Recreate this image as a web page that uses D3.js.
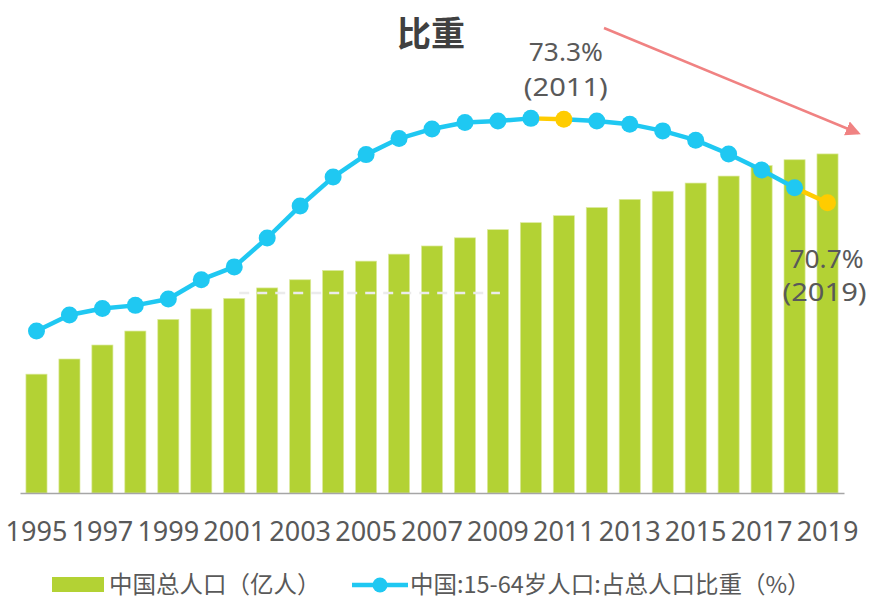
<!DOCTYPE html>
<html>
<head>
<meta charset="utf-8">
<script src="https://cdn.jsdelivr.net/npm/d3@7"></script>
<style>
  body { margin: 0; background: #fff; }
  svg { display: block; font-family: "Noto Sans CJK SC", "Noto Sans", sans-serif; }
</style>
</head>
<body>
<script>
// years on the x axis
const years = d3.range(1995, 2020);
// 中国总人口（亿人）
const population = [12.11, 12.24, 12.36, 12.48, 12.58, 12.67, 12.76, 12.85, 12.92, 13.00,
                    13.08, 13.14, 13.21, 13.28, 13.35, 13.41, 13.47, 13.54, 13.61, 13.68,
                    13.75, 13.81, 13.90, 13.95, 14.00];
// 中国:15-64岁人口:占总人口比重（%）
const share = [66.7, 67.2, 67.4, 67.5, 67.7, 68.3, 68.7, 69.6, 70.6, 71.5,
               72.2, 72.7, 73.0, 73.2, 73.25, 73.33, 73.3, 73.25, 73.15, 72.94,
               72.65, 72.22, 71.72, 71.17, 70.7];
// highlighted points
const highlightYears = [2011, 2019];
const tickYears = years.filter(function(y) { return y % 2 === 1; });

const width = 869, height = 601;
const green = "#b3d234", blue = "#1fc8f2", yellow = "#ffcc00", textColor = "#595959";

const svg = d3.select("body").append("svg")
    .attr("width", width)
    .attr("height", height);

const x = d3.scaleBand()
    .domain(years)
    .range([20, 844])
    .paddingInner(0.36)
    .paddingOuter(0.18);

const baseY = 493, topY = 60;

const yBar = d3.scaleLinear()
    .domain([11.09, 14.806])
    .range([baseY, topY]);

const yLine = d3.scaleLinear()
    .domain([61.65, 75.15])
    .range([baseY, topY]);

const cx = function(yr) { return x(yr) + x.bandwidth() / 2; };

// bars
svg.append("g")
    .selectAll("rect")
    .data(years)
    .enter()
    .append("rect")
    .attr("x", function(d) { return x(d); })
    .attr("y", function(d, i) { return yBar(population[i]); })
    .attr("width", x.bandwidth())
    .attr("height", function(d, i) { return baseY - yBar(population[i]); })
    .attr("fill", green)
    .attr("stroke", "#dcea9e")
    .attr("stroke-width", 0.7);

// faint dashed reference line
svg.append("line")
    .attr("x1", cx(2002) - 28)
    .attr("x2", cx(2009) + 2)
    .attr("y1", 293)
    .attr("y2", 293)
    .attr("stroke", "#ebebeb")
    .attr("stroke-width", 2.5)
    .attr("stroke-dasharray", "10,8");

// x axis
const xAxis = d3.axisBottom(x)
    .tickValues(tickYears)
    .tickSize(0)
    .tickPadding(29);

const axisG = svg.append("g")
    .attr("transform", "translate(0," + baseY + ")")
    .call(xAxis);

axisG.select(".domain")
    .attr("stroke", "#a6a6a6")
    .attr("stroke-width", 1.5);

axisG.selectAll("text")
    .attr("fill", textColor)
    .style("font-family", "'Noto Sans', sans-serif")
    .style("font-size", "27px");

// line segments, coloured by the end point
const pts = years.map(function(yr, i) { return {year: yr, v: share[i]}; });

svg.append("g")
    .selectAll("line")
    .data(pts.slice(1))
    .enter()
    .append("line")
    .attr("x1", function(d, i) { return cx(pts[i].year); })
    .attr("y1", function(d, i) { return yLine(pts[i].v); })
    .attr("x2", function(d) { return cx(d.year); })
    .attr("y2", function(d) { return yLine(d.v); })
    .attr("stroke", function(d) { return highlightYears.indexOf(d.year) >= 0 ? yellow : blue; })
    .attr("stroke-width", 4.5);

svg.append("g")
    .selectAll("circle")
    .data(pts)
    .enter()
    .append("circle")
    .attr("cx", function(d) { return cx(d.year); })
    .attr("cy", function(d) { return yLine(d.v); })
    .attr("r", 8.5)
    .attr("fill", function(d) { return highlightYears.indexOf(d.year) >= 0 ? yellow : blue; });

// annotations
const annot = svg.append("g")
    .attr("fill", textColor)
    .attr("text-anchor", "middle")
    .style("font-family", "'Noto Sans', sans-serif")
    .style("font-size", "24.5px");

function note(px, py, w, s) {
    annot.append("text")
        .attr("x", px)
        .attr("y", py)
        .attr("textLength", w)
        .attr("lengthAdjust", "spacingAndGlyphs")
        .text(s);
}
note(cx(2011) + 2, yLine(73.3) - 58, 74, "73.3%");
note(cx(2011) + 2, yLine(73.3) - 23, 84, "(2011)");
note(cx(2019) - 1, yLine(70.7) + 65, 74, "70.7%");
note(cx(2019) - 3, yLine(70.7) + 98, 84, "(2019)");

// title
svg.append("text")
    .attr("x", 431)
    .attr("y", 46)
    .attr("text-anchor", "middle")
    .attr("fill", "#404040")
    .style("font-size", "34px")
    .style("font-weight", "bold")
    .text("比重");

// trend arrow
svg.append("defs").append("marker")
    .attr("id", "arrowhead")
    .attr("viewBox", "0 0 10 10")
    .attr("refX", 8)
    .attr("refY", 5)
    .attr("markerWidth", 6)
    .attr("markerHeight", 6)
    .attr("orient", "auto")
    .append("path")
    .attr("d", "M0,0 L10,5 L0,10 z")
    .attr("fill", "#f08282");

svg.append("line")
    .attr("x1", 604)
    .attr("y1", 28)
    .attr("x2", 858)
    .attr("y2", 133)
    .attr("stroke", "#f08282")
    .attr("stroke-width", 2.5)
    .attr("marker-end", "url(#arrowhead)");

// legend
const legend = svg.append("g")
    .style("font-size", "23.5px")
    .attr("fill", textColor);

legend.append("rect")
    .attr("x", 52)
    .attr("y", 577)
    .attr("width", 52)
    .attr("height", 15)
    .attr("fill", green);
legend.append("text")
    .attr("x", 109)
    .attr("y", 593)
    .text("中国总人口（亿人）");

legend.append("line")
    .attr("x1", 352)
    .attr("x2", 408)
    .attr("y1", 585)
    .attr("y2", 585)
    .attr("stroke", blue)
    .attr("stroke-width", 4.5);
legend.append("circle")
    .attr("cx", 380)
    .attr("cy", 585)
    .attr("r", 7.5)
    .attr("fill", blue);
legend.append("text")
    .attr("x", 410)
    .attr("y", 593)
    .text("中国:15-64岁人口:占总人口比重（%）");
</script>
</body>
</html>
